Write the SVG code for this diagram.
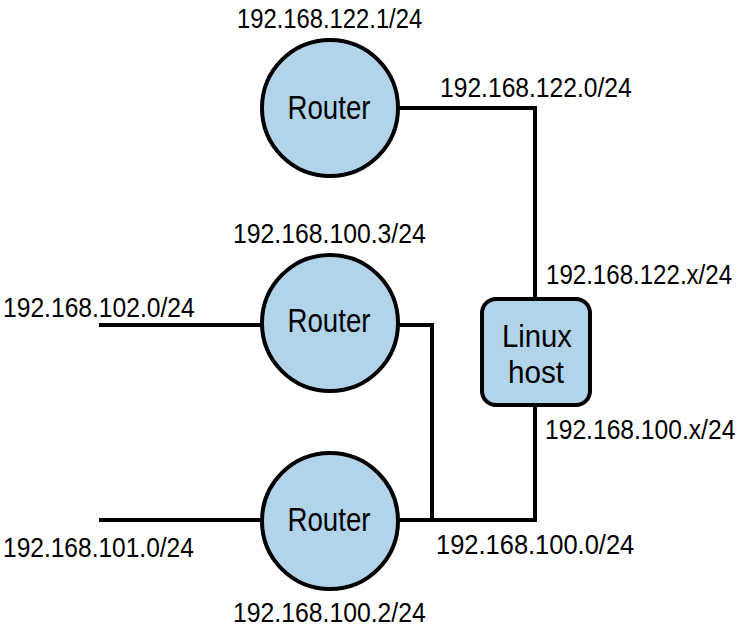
<svg xmlns="http://www.w3.org/2000/svg" width="743" height="631" viewBox="0 0 743 631">
<style>
.node{fill:#b2d4ea;stroke:#000;stroke-width:4}
.wire{fill:none;stroke:#000;stroke-width:4}
text{font-family:"Liberation Sans",Arial,sans-serif;fill:#000}
.ip{font-size:28px}
.lbl{font-size:34px;text-anchor:middle}
.hl{font-size:32px;text-anchor:middle}
</style>
<rect width="743" height="631" fill="#fff"/>
<g id="connectors">
<path class="wire" d="M398,108 H535 V299"/>
<path class="wire" d="M398,325 H432 V520"/>
<path class="wire" d="M398,520 H535 V405"/>
<path class="wire" d="M99,325 H262"/>
<path class="wire" d="M99,520 H262"/>
</g>
<g id="router1">
<circle class="node" cx="330" cy="108" r="68"/>
<text class="lbl" x="329" y="119" textLength="83" lengthAdjust="spacingAndGlyphs">Router</text>
</g>
<g id="router2">
<circle class="node" cx="330" cy="323" r="68"/>
<text class="lbl" x="329" y="332" textLength="83" lengthAdjust="spacingAndGlyphs">Router</text>
</g>
<g id="router3">
<circle class="node" cx="330" cy="521" r="68"/>
<text class="lbl" x="329" y="531" textLength="83" lengthAdjust="spacingAndGlyphs">Router</text>
</g>
<g id="linux-host">
<rect class="node" x="482" y="299" width="108" height="106" rx="14"/>
<text class="hl" x="537" y="347" textLength="70" lengthAdjust="spacingAndGlyphs">Linux</text>
<text class="hl" x="536" y="383" textLength="56" lengthAdjust="spacingAndGlyphs">host</text>
</g>
<g id="labels">
<text class="ip" transform="translate(237,28) scale(0.85,1)">192.168.122.1/24</text>
<text class="ip" transform="translate(440,97) scale(0.88,1)">192.168.122.0/24</text>
<text class="ip" transform="translate(233,243) scale(0.885,1)">192.168.100.3/24</text>
<text class="ip" transform="translate(3,317) scale(0.88,1)">192.168.102.0/24</text>
<text class="ip" transform="translate(546,284) scale(0.86,1)">192.168.122.x/24</text>
<text class="ip" transform="translate(545,439) scale(0.88,1)">192.168.100.x/24</text>
<text class="ip" transform="translate(3,557) scale(0.876,1)">192.168.101.0/24</text>
<text class="ip" transform="translate(436,554) scale(0.91,1)">192.168.100.0/24</text>
<text class="ip" transform="translate(233,622) scale(0.885,1)">192.168.100.2/24</text>
</g>
</svg>
